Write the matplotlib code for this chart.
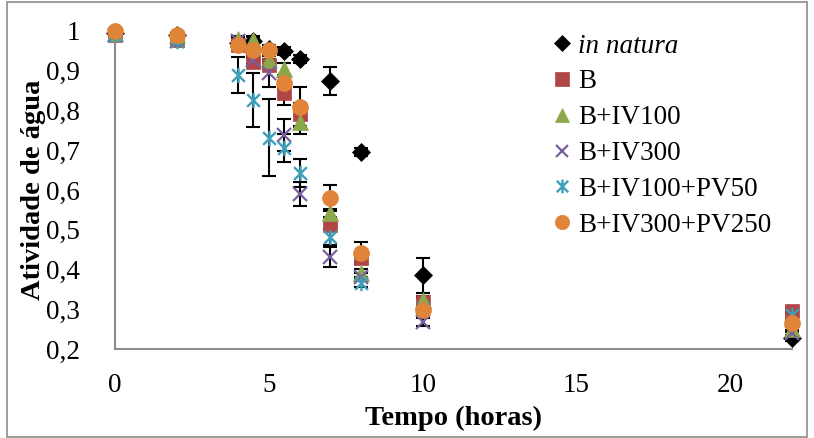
import matplotlib
matplotlib.use("Agg")
import matplotlib.pyplot as plt
from matplotlib.path import Path
from matplotlib.ticker import FuncFormatter
import matplotlib.patches as patches

# ---- data ----
tempo = [0, 2, 4, 4.5, 5, 5.5, 6, 7, 8, 10, 22]

series_names = ["in natura", "B", "B+IV100", "B+IV300", "B+IV100+PV50", "B+IV300+PV250"]

in_natura = [0.995, 0.99, 0.97, 0.975, 0.955, 0.950, 0.930, 0.875, 0.695, 0.385, 0.228]
b_vals = [0.990, 0.977, 0.965, 0.922, 0.915, 0.844, 0.790, 0.512, 0.429, 0.318, 0.295]
b_iv100 = [0.995, 0.990, 0.980, 0.978, 0.927, 0.905, 0.771, 0.542, 0.391, 0.323, 0.250]
b_iv300 = [0.990, 0.975, 0.975, 0.927, 0.894, 0.738, 0.590, 0.431, 0.381, 0.268, 0.240]
b_iv100_pv50 = [0.990, 0.975, 0.889, 0.826, 0.731, 0.706, 0.643, 0.482, 0.366, 0.300, 0.285]
b_iv300_pv250 = [1.000, 0.990, 0.965, 0.952, 0.952, 0.869, 0.809, 0.580, 0.442, 0.298, 0.265]

err_in_natura = [0.003, 0.005, 0.005, 0.010, 0.010, 0.010, 0.010, 0.035, 0.010, 0.045, 0.008]
err_b = [0.003, 0.005, 0.008, 0.010, 0.010, 0.030, 0.030, 0.010, 0.010, 0.010, 0.008]
err_b_iv100 = [0.003, 0.005, 0.008, 0.010, 0.010, 0.015, 0.030, 0.010, 0.010, 0.010, 0.008]
err_b_iv300 = [0.003, 0.005, 0.008, 0.010, 0.035, 0.040, 0.030, 0.025, 0.010, 0.010, 0.008]
err_b_iv100_pv50 = [0.003, 0.005, 0.045, 0.068, 0.097, 0.035, 0.035, 0.020, 0.010, 0.010, 0.008]
err_b_iv300_pv250 = [0.003, 0.005, 0.008, 0.010, 0.010, 0.015, 0.050, 0.033, 0.028, 0.010, 0.008]

x_ticks = [0, 5, 10, 15, 20]
y_ticks = [0.2, 0.3, 0.4, 0.5, 0.6, 0.7, 0.8, 0.9, 1.0]

# ---- style ----
plt.rcParams['font.family'] = ['Liberation Serif', 'DejaVu Serif']
FS = 19.5
LFS = 20.5

star = Path([(-0.5, -0.5), (0.5, 0.5), (-0.5, 0.5), (0.5, -0.5), (0, -0.6), (0, 0.6)],
            [Path.MOVETO, Path.LINETO, Path.MOVETO, Path.LINETO, Path.MOVETO, Path.LINETO])

styles = [
    dict(marker='D', color='black', ms=9, mec='black', mew=0.5),
    dict(marker='s', color='#B04646', ms=10.5, mec='#B04646', mew=0.5),
    dict(marker='^', color='#8BA84B', ms=11, mec='#8BA84B', mew=0.5),
    dict(marker='x', color='#7B5FA0', ms=10, mec='#7B5FA0', mew=1.6),
    dict(marker=star, color='#3E9FBA', ms=11, mec='#3E9FBA', mew=1.7),
    dict(marker='o', color='#E0843A', ms=11.5, mec='#E0843A', mew=0.5),
]

data = [in_natura, b_vals, b_iv100, b_iv300, b_iv100_pv50, b_iv300_pv250]
errs = [err_in_natura, err_b, err_b_iv100, err_b_iv300, err_b_iv100_pv50, err_b_iv300_pv250]

W, H = 814, 438
fig = plt.figure(figsize=(W / 100, H / 100), dpi=100)
ax = fig.add_axes([115 / W, 1 - 349 / H, (792 - 115) / W, (349 - 31) / H])

for i, (vals, e) in enumerate(zip(data, errs)):
    ax.errorbar(tempo, vals, yerr=e, fmt='none', ecolor='black', elinewidth=1.5,
                capsize=4.7, capthick=1.5, zorder=2 + i * 0.01, clip_on=False)
for i, (name, vals, st) in enumerate(zip(series_names, data, styles)):
    ax.plot(tempo, vals, linestyle='none', label=name, zorder=3 + i, clip_on=False, **st)

ax.set_xlim(0, 22)
ax.set_ylim(0.2, 1.0)
ax.set_xticks(x_ticks)
ax.set_yticks(y_ticks)
ax.yaxis.set_major_formatter(FuncFormatter(lambda v, p: f"{v:g}".replace('.', ',')))
ax.tick_params(length=0, labelsize=FS)
ax.tick_params(axis='y', pad=25)
ax.tick_params(axis='x', pad=17)
for s in ['top', 'right']:
    ax.spines[s].set_visible(False)
for s in ['left', 'bottom']:
    ax.spines[s].set_color('#8C8C8C')
    ax.spines[s].set_linewidth(1.5)

ax.set_xlabel('Tempo (horas)', fontsize=LFS, fontweight='bold', labelpad=6)
ax.set_ylabel('Atividade de água', fontsize=LFS, fontweight='bold', labelpad=0)

leg = ax.legend(loc='upper left', bbox_to_anchor=(540 / W, 1 - 20 / H),
                bbox_transform=fig.transFigure, frameon=False, fontsize=FS,
                handlelength=0.6, handletextpad=0.3, labelspacing=0.40,
                borderpad=0, markerscale=0.9)
leg.get_texts()[0].set_fontstyle('italic')

fig.patches.append(patches.Rectangle((7 / W, 1 / H), 800 / W, 435 / H, transform=fig.transFigure,
                                     fill=False, edgecolor='#8C8C8C', linewidth=1.2))

fig.savefig('out.png', dpi=100)
